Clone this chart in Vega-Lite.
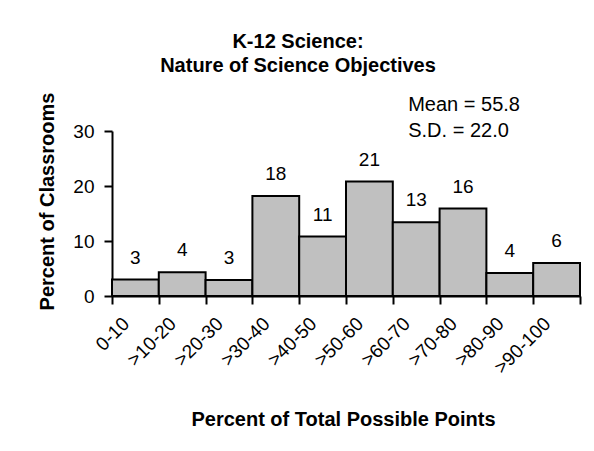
{
  "$schema": "https://vega.github.io/schema/vega-lite/v6.json",
  "autosize": "none",
  "width": 468,
  "height": 165,
  "padding": {"left": 112, "top": 131, "right": 14, "bottom": 155},
  "background": "white",
  "config": {
    "font": "Liberation Sans",
    "view": {"stroke": null},
    "axis": {"grid": false, "domainColor": "black", "domainWidth": 2, "tickColor": "black", "tickWidth": 2, "tickSize": 8, "labelColor": "black", "titleColor": "black", "labelFontSize": 19, "titleFontSize": 20, "titleFontWeight": "bold"}
  },
  "title": {
    "text": ["K-12 Science:", "Nature of Science Objectives"],
    "fontSize": 20,
    "fontWeight": "bold",
    "color": "black",
    "anchor": "middle",
    "lineHeight": 24,
    "dx": -48,
    "offset": 16
  },
  "data": {
    "values": [
      {"range": "0-10", "pct": 3.0, "label": "3"},
      {"range": ">10-20", "pct": 4.3, "label": "4"},
      {"range": ">20-30", "pct": 2.9, "label": "3"},
      {"range": ">30-40", "pct": 18.2, "label": "18"},
      {"range": ">40-50", "pct": 10.8, "label": "11"},
      {"range": ">50-60", "pct": 20.8, "label": "21"},
      {"range": ">60-70", "pct": 13.4, "label": "13"},
      {"range": ">70-80", "pct": 15.9, "label": "16"},
      {"range": ">80-90", "pct": 4.2, "label": "4"},
      {"range": ">90-100", "pct": 6.0, "label": "6"}
    ]
  },
  "encoding": {
    "x": {
      "field": "range", "type": "nominal", "sort": null,
      "scale": {"paddingInner": 0, "paddingOuter": 0},
      "axis": {"title": "Percent of Total Possible Points", "labelAngle": -45, "tickBand": "extent", "labelPadding": 10, "labelOffset": -16, "titleX": 231, "titleY": 123, "titleBaseline": "middle"}
    },
    "y": {
      "field": "pct", "type": "quantitative",
      "scale": {"domain": [0, 30], "nice": false},
      "axis": {"title": "Percent of Classrooms", "values": [0, 10, 20, 30], "labelPadding": 10, "titleX": -65, "titleY": 70, "titleBaseline": "middle"}
    }
  },
  "layer": [
    {"mark": {"type": "bar", "fill": "#c0c0c0", "stroke": "black", "strokeWidth": 2}},
    {"mark": {"type": "text", "baseline": "bottom", "dy": -12, "fontSize": 19, "color": "black"}, "encoding": {"text": {"field": "label"}}},
    {
      "data": {"values": [{"t": "Mean = 55.8", "yy": 34.7}, {"t": "S.D. = 22.0", "yy": 30}]},
      "mark": {"type": "text", "align": "left", "baseline": "middle", "fontSize": 20, "dx": -8, "color": "black"},
      "encoding": {"x": {"datum": ">60-70"}, "y": {"field": "yy", "type": "quantitative"}, "text": {"field": "t"}}
    }
  ]
}
